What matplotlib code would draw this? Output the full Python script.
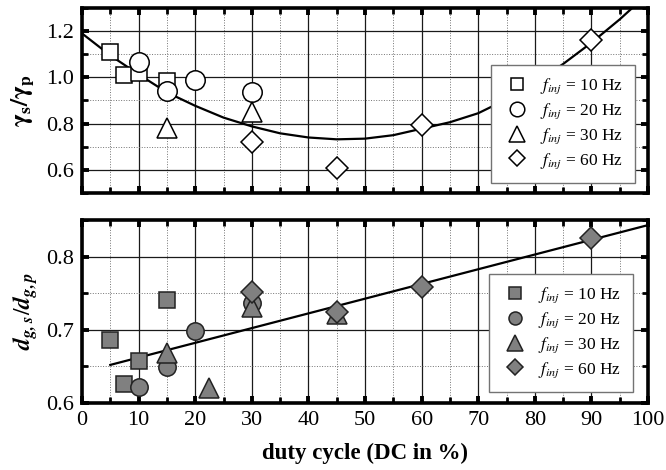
import matplotlib
matplotlib.use("Agg")
import matplotlib.pyplot as plt
from matplotlib.ticker import MultipleLocator, FormatStrFormatter

plt.rcParams['font.family'] = ['Liberation Serif', 'DejaVu Serif']
plt.rcParams['mathtext.fontset'] = 'stix'

# duty cycle (%) and ratio gamma_s / gamma_p (top panel)
dc_10_top = [5, 7.5, 10, 15]
gam_10 = [1.11, 1.01, 1.02, 0.985]
dc_20_top = [10, 15, 20, 30]
gam_20 = [1.065, 0.94, 0.988, 0.937]
dc_30_top = [15, 30]
gam_30 = [0.78, 0.852]
dc_60_top = [30, 45, 60, 90]
gam_60 = [0.72, 0.608, 0.796, 1.16]

# fitted curve
fit_dc_top = [0, 5, 10, 15, 20, 25, 30, 35, 40, 45, 50, 55, 60, 65, 70, 75, 80, 85, 90, 95, 97.2]
fit_gam = [1.19, 1.095, 1.013, 0.935, 0.877, 0.826, 0.788, 0.758, 0.740, 0.732, 0.735, 0.750, 0.778,
           0.806, 0.845, 0.905, 0.975, 1.058, 1.150, 1.251, 1.30]

# ratio d_g,s / d_g,p (bottom panel)
dc_10_bot = [5, 7.5, 10, 15]
dg_10 = [0.686, 0.626, 0.658, 0.740]
dc_20_bot = [10, 15, 20, 30]
dg_20 = [0.622, 0.649, 0.698, 0.737]
dc_30_bot = [15, 22.5, 30, 45]
dg_30 = [0.668, 0.620, 0.731, 0.722]
dc_60_bot = [30, 45, 60, 90]
dg_60 = [0.752, 0.724, 0.758, 0.825]

fit_dc_bot = [5, 100]
fit_dg = [0.652, 0.843]

labels = [r'$f_{inj}$ = 10 Hz', r'$f_{inj}$ = 20 Hz', r'$f_{inj}$ = 30 Hz', r'$f_{inj}$ = 60 Hz']

fig = plt.figure(figsize=(6.66, 4.70), dpi=100)
ax1 = fig.add_axes([0.1231, 0.5894, 0.850, 0.3936])
ax2 = fig.add_axes([0.1231, 0.1426, 0.850, 0.3894])


def style_axes(ax, ymaj, ymin):
    ax.set_xlim(0, 100)
    ax.xaxis.set_major_locator(MultipleLocator(10))
    ax.xaxis.set_minor_locator(MultipleLocator(5))
    ax.yaxis.set_major_locator(MultipleLocator(ymaj))
    ax.yaxis.set_minor_locator(MultipleLocator(ymin))
    ax.grid(which='major', color='0.1', lw=0.9, ls='-')
    ax.grid(which='minor', color='0.45', lw=0.7, ls=':')
    ax.set_axisbelow(True)
    for s in ax.spines.values():
        s.set_linewidth(2.6)
    ax.tick_params(which='major', direction='in', length=5, width=2.8,
                   top=True, right=True, labelsize=16, pad=6)
    ax.tick_params(which='minor', direction='in', length=4, width=2.0,
                   top=True, right=True)


def add_legend(ax, anchor):
    leg = ax.legend(loc='lower right', bbox_to_anchor=anchor, borderaxespad=0, fontsize=12.5,
                    markerscale=0.75, fancybox=False, framealpha=1, edgecolor='0.45',
                    labelspacing=0.3, handletextpad=0.5, borderpad=0.7, handlelength=1.6)
    leg.get_frame().set_linewidth(1.0)


style_axes(ax1, 0.2, 0.1)
ax1.set_ylim(0.5, 1.3)
ax1.yaxis.set_major_formatter(FormatStrFormatter('%.1f'))
ax1.tick_params(labelbottom=False)

ax1.plot(fit_dc_top, fit_gam, color='black', lw=1.6, zorder=2)
mk = dict(markerfacecolor='white', markeredgecolor='black', markeredgewidth=1.1, ls='none', zorder=3)
ax1.plot(dc_10_top, gam_10, marker='s', ms=11, label=labels[0], **mk)
ax1.plot(dc_20_top, gam_20, marker='o', ms=14, label=labels[1], **mk)
ax1.plot(dc_30_top, gam_30, marker='^', ms=15, label=labels[2], **mk)
ax1.plot(dc_60_top, gam_60, marker='D', ms=11.5, label=labels[3], **mk)
ax1.set_ylabel(r'$\mathbf{\gamma_s/\gamma_p}$', fontsize=18)
ax1.yaxis.set_label_coords(-0.08, 0.5)
add_legend(ax1, (0.977, 0.054))

style_axes(ax2, 0.1, 0.05)
ax2.set_ylim(0.6, 0.85)
ax2.yaxis.set_major_formatter(FormatStrFormatter('%.1f'))

ax2.plot(fit_dc_bot, fit_dg, color='black', lw=1.6, zorder=2)
mk2 = dict(markerfacecolor='#808080', markeredgecolor='#222222', markeredgewidth=1.1, ls='none', zorder=3)
ax2.plot(dc_10_bot, dg_10, marker='s', ms=11, label=labels[0], **mk2)
ax2.plot(dc_20_bot, dg_20, marker='o', ms=12.5, label=labels[1], **mk2)
ax2.plot(dc_30_bot, dg_30, marker='^', ms=15, label=labels[2], **mk2)
ax2.plot(dc_60_bot, dg_60, marker='D', ms=11.5, label=labels[3], **mk2)
ax2.set_ylabel(r'$\mathbfit{d}_{\mathbfit{g,s}}/\mathbfit{d}_{\mathbfit{g,p}}$', fontsize=17)
ax2.yaxis.set_label_coords(-0.075, 0.5)
ax2.set_xlabel('duty cycle (DC in %)', fontsize=16.5, fontweight='bold', labelpad=9)
add_legend(ax2, (0.9735, 0.06))

fig.savefig('out.png', dpi=100)
